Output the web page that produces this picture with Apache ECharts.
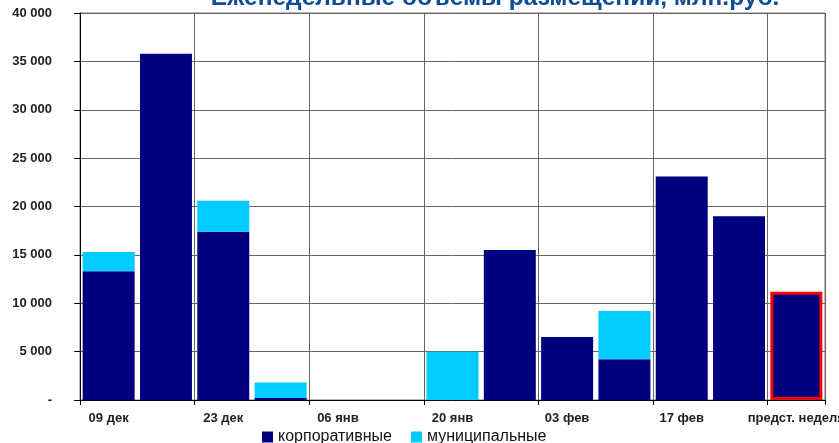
<!DOCTYPE html>
<html>
<head>
<meta charset="utf-8">
<script src="https://cdn.jsdelivr.net/npm/echarts@6/dist/echarts.min.js"></script>
<style>
  html, body { margin: 0; padding: 0; background: #fff; }
  #chart { width: 839px; height: 443px; }
</style>
</head>
<body>
<div id="chart"></div>
<script>
// Weekly placement volumes, mln RUB
const weeks = ['09 дек', '16 дек', '23 дек', '30 дек', '06 янв', '13 янв', '20 янв',
               '27 янв', '03 фев', '10 фев', '17 фев', '24 фев', 'предст. неделя'];
const corporate = [13300, 35800, 17400, 200, 0, 0, 0, 15500, 6500, 4200, 23100, 19000, 11200];
const municipal = [2000, 0, 3200, 1600, 0, 0, 5000, 0, 0, 5000, 0, 0, 0];
const highlightIndex = 12; // upcoming week, outlined in red

const chart = echarts.init(document.getElementById('chart'));

const fmt = v => v === 0 ? '-' : String(v).replace(/\B(?=(\d{3})+(?!\d))/g, ' ');
const font = 'Liberation Sans, Arial, sans-serif';

chart.setOption({
  animation: false,
  title: {
    text: 'Еженедельные объемы размещений, млн.руб.',
    left: 490,
    textAlign: 'center',
    top: -19,
    textStyle: { fontFamily: font, fontSize: 24.5, fontWeight: 'bold', color: '#0D4C96' }
  },
  legend: {
    bottom: -7,
    left: 257,
    itemWidth: 11,
    itemHeight: 11,
    itemGap: 19,
    icon: 'rect',
    textStyle: { fontFamily: font, fontSize: 16, color: '#111' },
    data: ['корпоративные', 'муниципальные']
  },
  grid: {
    left: 80, right: 14, top: 13, bottom: 43,
    outerBoundsMode: 'none',
    containLabel: false,
    show: true, borderColor: '#777', borderWidth: 1
  },
  xAxis: {
    type: 'category',
    data: weeks,
    axisLine: { lineStyle: { color: '#000', width: 1 } },
    axisTick: { show: true, interval: 1, length: 5, lineStyle: { color: '#000' } },
    splitLine: { show: true, interval: 1, lineStyle: { color: '#666', width: 1 } },
    axisLabel: {
      interval: 1, margin: 12,
      fontFamily: font, fontSize: 13, fontWeight: 'bold', color: '#222'
    }
  },
  yAxis: {
    type: 'value',
    min: 0, max: 40000, interval: 5000,
    axisLine: { show: true, lineStyle: { color: '#000', width: 1 } },
    axisTick: { show: true, length: 6, lineStyle: { color: '#000' } },
    splitLine: { lineStyle: { color: '#666', width: 1 } },
    axisLabel: {
      margin: 28, formatter: fmt,
      fontFamily: font, fontSize: 13, fontWeight: 'bold', color: '#222'
    }
  },
  series: [
    {
      name: 'корпоративные',
      type: 'bar',
      stack: 'total',
      barWidth: 52,
      itemStyle: { color: '#000080' },
      data: corporate.map((v, i) => i === highlightIndex
        ? { value: v, itemStyle: { borderColor: '#FF0000', borderWidth: 3 } }
        : v)
    },
    {
      name: 'муниципальные',
      type: 'bar',
      stack: 'total',
      barWidth: 52,
      itemStyle: { color: '#00CCFF' },
      data: municipal
    }
  ]
});
</script>
</body>
</html>
